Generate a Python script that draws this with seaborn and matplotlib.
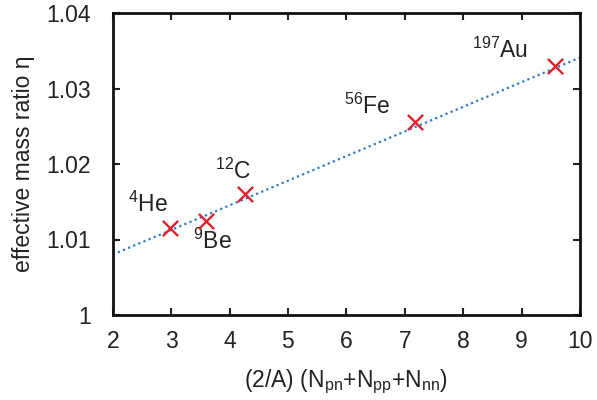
import matplotlib
matplotlib.use("Agg")
import matplotlib.pyplot as plt
import seaborn as sns
import pandas as pd

# data
nuclei = ["$^{4}$He", "$^{9}$Be", "$^{12}$C", "$^{56}$Fe", "$^{197}$Au"]
x_vals = [2.98, 3.60, 4.26, 7.18, 9.57]
eta_vals = [1.0115, 1.0125, 1.0160, 1.0255, 1.0330]
label_x = [2.60, 3.71, 4.06, 6.35, 8.63]
label_y = [1.0146, 1.0097, 1.0190, 1.0277, 1.0351]
fit_x = [2.0, 10.0]
fit_y = [1.0080, 1.0341]
xticks = [2, 3, 4, 5, 6, 7, 8, 9, 10]
yticks = [1.00, 1.01, 1.02, 1.03, 1.04]
ytick_labels = ["1", "1.01", "1.02", "1.03", "1.04"]

sns.set_theme(style="ticks")
plt.rcParams["font.family"] = ["Liberation Sans", "DejaVu Sans"]
plt.rcParams["mathtext.fontset"] = "custom"
plt.rcParams["mathtext.rm"] = "Liberation Sans"
plt.rcParams["mathtext.it"] = "Liberation Sans"
plt.rcParams["mathtext.bf"] = "Liberation Sans"

fig = plt.figure(figsize=(5.97, 4.0), dpi=100)
ax = fig.add_axes([0.1888, 0.2125, 0.9715 - 0.1888, 0.9675 - 0.2125])

df_fit = pd.DataFrame({"x": fit_x, "y": fit_y})
df_pts = pd.DataFrame({"x": x_vals, "y": eta_vals, "name": nuclei})

sns.lineplot(data=df_fit, x="x", y="y", ax=ax, color="#2f7cc0",
             linestyle=(0, (1, 1.5)), linewidth=1.6)
sns.scatterplot(data=df_pts, x="x", y="y", ax=ax, marker="x", s=120,
                color="#e0202a", linewidth=1.7, zorder=5)

fs = 16.5
for name, lx, ly in zip(nuclei, label_x, label_y):
    ax.text(lx, ly, name, ha="center", va="center", fontsize=fs, color="#222222")

ax.set_xlim(2, 10)
ax.set_ylim(1.0, 1.04)
ax.set_xticks(xticks)
ax.set_xticklabels([str(t) for t in xticks])
ax.set_yticks(yticks)
ax.set_yticklabels(ytick_labels)
ax.tick_params(direction="in", length=5, width=1.5, labelsize=fs,
               top=True, right=True, colors="#222222")
ax.tick_params(axis="x", pad=11)
ax.tick_params(axis="y", pad=15.5)
for sp in ax.spines.values():
    sp.set_linewidth(2.0)
    sp.set_color("#111111")

ax.set_xlabel("(2/A) (N$_{\\mathrm{pn}}$+N$_{\\mathrm{pp}}$+N$_{\\mathrm{nn}}$)",
              fontsize=fs, color="#222222", labelpad=10)
ax.set_ylabel("effective mass ratio η", fontsize=fs, color="#222222", labelpad=8)

fig.savefig("out.png", dpi=100)
